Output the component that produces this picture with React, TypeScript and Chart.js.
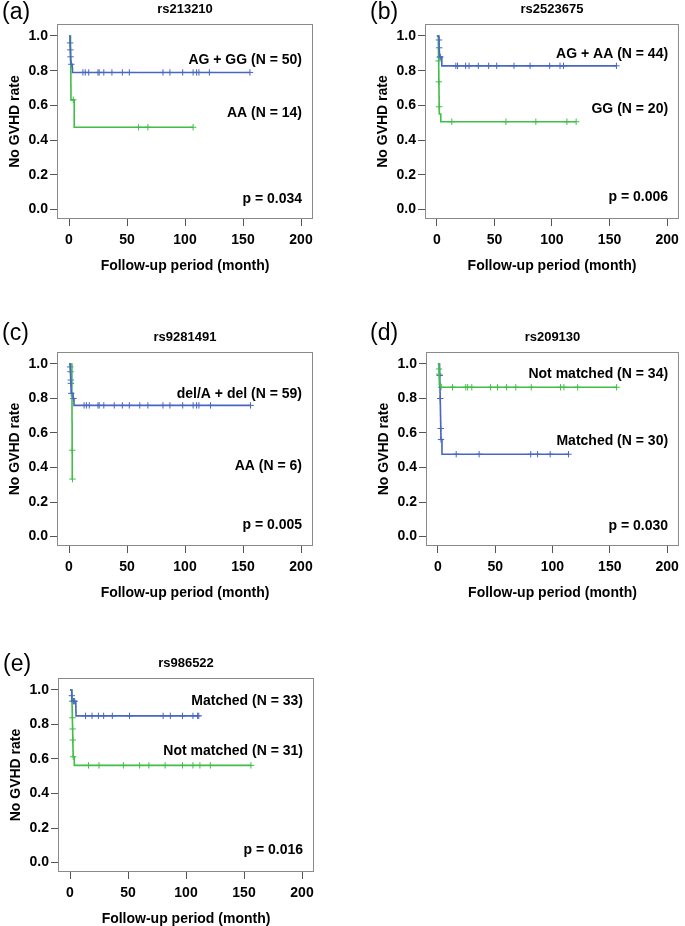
import React, { useEffect, useRef } from 'react';
import { Chart, registerables } from 'chart.js';
Chart.register(...registerables);

const xTicks = [0, 50, 100, 150, 200];
const yTicks = [0, 0.2, 0.4, 0.6, 0.8, 1.0];

// (a) rs213210
const aBlueTimes = [0.8, 0.9, 1.0, 1.1, 1.2, 1.3, 1.4, 1.6, 2.8, 3.0];
const aBlueSurv = [0.98, 0.96, 0.94, 0.92, 0.9, 0.88, 0.86, 0.837, 0.815, 0.79];
const aBlueCensored = [0.95, 1.15, 1.35, 2.0, 12, 14, 17, 25, 26, 30, 37, 46, 52, 81, 87, 98, 107, 110, 112, 121, 156];
const aGreenTimes = [1.3, 1.4, 1.5, 1.6, 1.7, 4.5];
const aGreenSurv = [0.929, 0.857, 0.786, 0.714, 0.632, 0.474];
const aGreenCensored = [3.7, 60, 68, 107];

// (b) rs2523675
const bBlueTimes = [1.8, 1.9, 2.0, 2.1, 2.2, 4.3];
const bBlueSurv = [0.977, 0.955, 0.932, 0.909, 0.879, 0.828];
const bBlueCensored = [1.85, 2.05, 2.6, 3.0, 16.5, 18, 25, 28, 36, 45, 52, 67, 81, 98, 107, 110, 156];
const bGreenTimes = [1.3, 1.4, 1.5, 1.6, 1.7, 1.8, 1.9, 2.0, 2.1, 3.4];
const bGreenSurv = [0.95, 0.9, 0.856, 0.8, 0.736, 0.7, 0.65, 0.592, 0.55, 0.506];
const bGreenCensored = [1.55, 1.75, 2.05, 13, 60, 86, 113, 121];

// (c) rs9281491
const cBlueTimes = [1.0, 1.1, 1.2, 1.3, 1.4, 1.5, 1.6, 1.7, 1.8, 1.9, 3.5, 4.3];
const cBlueSurv = [0.983, 0.966, 0.955, 0.94, 0.925, 0.907, 0.888, 0.87, 0.85, 0.83, 0.8, 0.76];
const cBlueCensored = [1.05, 1.25, 1.55, 1.65, 1.95, 3.8, 13, 15, 17.5, 25, 26, 30, 39, 46, 52, 61, 68, 81, 87, 98, 107, 110, 112, 122, 156.5];
const cGreenTimes = [2.5, 2.6, 2.7, 2.8];
const cGreenSurv = [0.833, 0.667, 0.5, 0.333];
const cGreenCensored = [2.75, 3.0];

// (d) rs209130
const dGreenTimes = [1.0, 1.1, 1.2, 1.3, 2.5];
const dGreenSurv = [0.971, 0.941, 0.912, 0.882, 0.865];
const dGreenCensored = [1.05, 1.15, 2.8, 12.8, 24.4, 26, 29.6, 46, 52, 60, 68, 81.5, 107, 110, 122, 156];
const dBlueTimes = [1.5, 1.6, 1.7, 1.8, 1.9, 2.0, 2.1, 2.2, 2.3, 2.4, 2.5, 2.6, 2.7, 3.6];
const dBlueSurv = [0.967, 0.933, 0.9, 0.867, 0.833, 0.8, 0.767, 0.733, 0.7, 0.667, 0.626, 0.595, 0.562, 0.477];
const dBlueCensored = [1.65, 2.05, 2.55, 2.75, 16, 36, 81, 87, 98, 114];

// (e) rs986522
const eBlueTimes = [1.5, 1.6, 5.0, 5.1, 5.2];
const eBlueSurv = [0.967, 0.935, 0.905, 0.878, 0.85];
const eBlueCensored = [1.55, 3.0, 4.0, 13.4, 19, 24.5, 29, 36.5, 51.3, 80.3, 86.5, 97, 106, 110, 111];
const eGreenTimes = [1.6, 1.7, 1.8, 1.9, 2.0, 2.1, 2.2, 2.3, 2.4, 2.5, 2.6, 2.7, 3.7];
const eGreenSurv = [0.968, 0.935, 0.903, 0.871, 0.839, 0.806, 0.774, 0.742, 0.71, 0.677, 0.645, 0.613, 0.563];
const eGreenCensored = [1.75, 2.05, 2.25, 2.45, 2.75, 16, 25, 46, 60, 68, 82, 97, 106, 112, 121, 156];

const BLUE = 'rgb(72,102,196)';
const GREEN = 'rgb(64,190,72)';
const FONT = '"Liberation Sans", Arial, Helvetica, sans-serif';

type Series = { times: number[]; surv: number[]; censored: number[]; color: string; label: string; labelY: number };
type Panel = {
  tag: string; title: string; box: [number, number, number, number]; tagX: number; tagDy: number;
  series: Series[]; pText: string; pY: number;
};

const panels: Panel[] = [
  { tag: '(a)', title: 'rs213210', box: [57, 24, 313, 219], tagX: 2, tagDy: -11,
    series: [
      { times: aBlueTimes, surv: aBlueSurv, censored: aBlueCensored, color: BLUE, label: 'AG + GG (N = 50)', labelY: 0.86 },
      { times: aGreenTimes, surv: aGreenSurv, censored: aGreenCensored, color: GREEN, label: 'AA (N = 14)', labelY: 0.556 },
    ], pText: 'p = 0.034', pY: 0.06 },
  { tag: '(b)', title: 'rs2523675', box: [425, 24, 682, 219], tagX: 370, tagDy: -11,
    series: [
      { times: bBlueTimes, surv: bBlueSurv, censored: bBlueCensored, color: BLUE, label: 'AG + AA (N = 44)', labelY: 0.897 },
      { times: bGreenTimes, surv: bGreenSurv, censored: bGreenCensored, color: GREEN, label: 'GG (N = 20)', labelY: 0.58 },
    ], pText: 'p = 0.006', pY: 0.07 },
  { tag: '(c)', title: 'rs9281491', box: [57, 352, 313, 546], tagX: 2, tagDy: -18,
    series: [
      { times: cBlueTimes, surv: cBlueSurv, censored: cBlueCensored, color: BLUE, label: 'del/A + del (N = 59)', labelY: 0.825 },
      { times: cGreenTimes, surv: cGreenSurv, censored: cGreenCensored, color: GREEN, label: 'AA (N = 6)', labelY: 0.41 },
    ], pText: 'p = 0.005', pY: 0.067 },
  { tag: '(d)', title: 'rs209130', box: [426, 352, 682, 546], tagX: 370, tagDy: -18,
    series: [
      { times: dGreenTimes, surv: dGreenSurv, censored: dGreenCensored, color: GREEN, label: 'Not matched (N = 34)', labelY: 0.94 },
      { times: dBlueTimes, surv: dBlueSurv, censored: dBlueCensored, color: BLUE, label: 'Matched (N = 30)', labelY: 0.553 },
    ], pText: 'p = 0.030', pY: 0.06 },
  { tag: '(e)', title: 'rs986522', box: [58, 678, 314, 872], tagX: 3, tagDy: -13,
    series: [
      { times: eBlueTimes, surv: eBlueSurv, censored: eBlueCensored, color: BLUE, label: 'Matched (N = 33)', labelY: 0.937 },
      { times: eGreenTimes, surv: eGreenSurv, censored: eGreenCensored, color: GREEN, label: 'Not matched (N = 31)', labelY: 0.648 },
    ], pText: 'p = 0.016', pY: 0.072 },
];

function survAt(times: number[], surv: number[], t: number) {
  let s = 1;
  for (let i = 0; i < times.length; i++) if (times[i] <= t) s = surv[i];
  return s;
}

const TOP_PAD = 40;
const LEFT_PAD = 57;
const BOTTOM = 81;

function PanelChart({ p }: { p: Panel }) {
  const ref = useRef<HTMLCanvasElement>(null);
  const [bl, bt, br, bb] = p.box;
  const left = bl - LEFT_PAD;
  const top = bt - TOP_PAD;
  const width = Math.min(340, 685 - left);
  const boxW = br - bl;
  const boxH = bb - bt;
  const height = TOP_PAD + boxH + BOTTOM;

  useEffect(() => {
    if (!ref.current) return;
    const pxPerMonth = (boxW - 24) / 200;
    const xm = 12 / pxPerMonth;
    const pxPerUnit = boxH - 21.3;
    const yLo = -9.5 / pxPerUnit;
    const yHi = 1 + 12 / pxPerUnit;
    const datasets: any[] = [];
    p.series.forEach((s) => {
      const last = Math.max(...s.censored, s.times[s.times.length - 1]);
      const pts = [{ x: 0, y: 1 }, ...s.times.map((t, i) => ({ x: t, y: s.surv[i] }))];
      pts.push({ x: last, y: s.surv[s.surv.length - 1] });
      datasets.push({ type: 'line', data: pts, borderColor: s.color, borderWidth: 1.6, stepped: 'before', pointRadius: 0, fill: false });
    });
    p.series.forEach((s) => {
      datasets.push({
        type: 'scatter',
        data: s.censored.map((c) => ({ x: c, y: survAt(s.times, s.surv, c) })),
        borderColor: s.color, backgroundColor: s.color, pointStyle: 'cross', pointRadius: 3.2, borderWidth: 1, showLine: false,
      });
    });
    const decor = {
      id: 'decor',
      afterDraw(chart: any) {
        const ctx = chart.ctx;
        const a = chart.chartArea;
        const xs = chart.scales.x;
        const ys = chart.scales.y;
        ctx.save();
        ctx.strokeStyle = '#8a8a8a';
        ctx.lineWidth = 1;
        ctx.strokeRect(a.left + 0.5, a.top + 0.5, a.right - a.left - 1, a.bottom - a.top - 1);
        ctx.fillStyle = '#000';
        ctx.font = `23px ${FONT}`;
        ctx.textAlign = 'left';
        ctx.textBaseline = 'middle';
        ctx.fillText(p.tag, p.tagX - left, TOP_PAD + p.tagDy);
        ctx.font = `bold 13px ${FONT}`;
        ctx.textAlign = 'center';
        ctx.fillText(p.title, (a.left + a.right) / 2, a.top - 14.5);
        ctx.font = `bold 14px ${FONT}`;
        ctx.fillText('Follow-up period (month)', (a.left + a.right) / 2, a.bottom + 47);
        ctx.save();
        ctx.translate(a.left - 41.5, (a.top + a.bottom) / 2);
        ctx.rotate(-Math.PI / 2);
        ctx.fillText('No GVHD rate', 0, 0);
        ctx.restore();
        ctx.textAlign = 'right';
        const xr = xs.getPixelForValue(200) + 1;
        p.series.forEach((s) => ctx.fillText(s.label, xr, ys.getPixelForValue(s.labelY)));
        ctx.fillText(p.pText, xr, ys.getPixelForValue(p.pY));
        ctx.restore();
      },
    };
    const chart = new Chart(ref.current, {
      type: 'line',
      data: { datasets },
      options: {
        animation: false,
        responsive: false,
        layout: { padding: { top: TOP_PAD, left: 3, right: width - LEFT_PAD - boxW, bottom: 0 } },
        plugins: { legend: { display: false }, tooltip: { enabled: false } },
        scales: {
          x: {
            type: 'linear', min: -xm, max: 200 + xm,
            afterBuildTicks: (ax: any) => { ax.ticks = xTicks.map((v) => ({ value: v })); },
            afterFit: (ax: any) => { ax.height = BOTTOM; },
            ticks: { font: { family: FONT, size: 14, weight: 'bold' }, color: '#000', padding: 6, maxRotation: 0, autoSkip: false, callback: (v: any) => String(v) },
            grid: { drawOnChartArea: false, drawTicks: true, tickLength: 7, color: '#555' },
            border: { display: false },
          },
          y: {
            type: 'linear', min: yLo, max: yHi,
            afterBuildTicks: (ax: any) => { ax.ticks = yTicks.map((v) => ({ value: v })); },
            afterFit: (ax: any) => { ax.width = 54; },
            ticks: { font: { family: FONT, size: 14, weight: 'bold' }, color: '#000', padding: 2, autoSkip: false, callback: (v: any) => Number(v).toFixed(1) },
            grid: { drawOnChartArea: false, drawTicks: true, tickLength: 7, color: '#555' },
            border: { display: false },
          },
        },
      },
      plugins: [decor],
    } as any);
    return () => chart.destroy();
  }, []);

  return (
    <canvas ref={ref} width={width} height={height}
      style={{ position: 'absolute', left, top, width, height }} />
  );
}

export default function App() {
  return (
    <div style={{ position: 'absolute', left: 0, top: 0, width: 685, height: 926, overflow: 'hidden', background: '#fff' }}>
      {panels.map((p) => <PanelChart key={p.tag} p={p} />)}
    </div>
  );
}
